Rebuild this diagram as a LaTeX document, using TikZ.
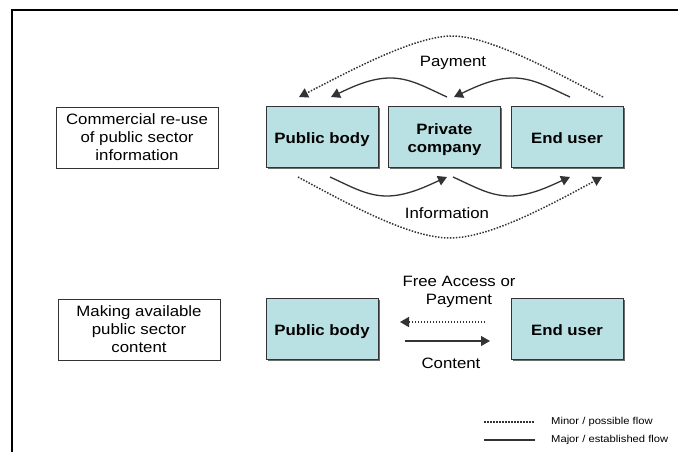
\documentclass[tikz,border=0pt]{standalone}
\usepackage{fontspec}
\setmainfont[FakeStretch=1.12]{Liberation Sans}
\usetikzlibrary{arrows.meta,shadows}
\definecolor{boxfill}{HTML}{B9E0E2}
\definecolor{ink}{HTML}{333333}
\newcommand\leadrule{\rule[-3.2pt]{0pt}{20.2pt}}
\tikzset{
  x=1pt,y=-1pt,
  actor/.style={draw=ink,line width=.9pt,fill=boxfill,minimum width=112pt,minimum height=61pt,inner sep=0pt,align=center,font=\fontsize{15}{18}\selectfont\bfseries,
    general shadow={shadow xshift=1.6pt,shadow yshift=-1.6pt,fill=gray!85!black}},
  caption/.style={draw=ink,line width=.8pt,fill=white,minimum width=162pt,minimum height=61pt,inner sep=0pt,align=center,font=\fontsize{15}{18}\selectfont},
  flowtext/.style={inner sep=0pt,align=center,font=\fontsize{15}{18}\selectfont},
  legendtext/.style={inner sep=0pt,anchor=west,font=\fontsize{10}{12}\selectfont},
  major/.style={draw=ink,line width=1.3pt,-{Triangle[length=9pt,width=10pt]}},
  minor/.style={draw=ink,line width=1.5pt,dash pattern=on 1.5pt off 1.5pt,-{Triangle[length=9pt,width=10pt]}},
}
\begin{document}
\begin{tikzpicture}
\useasboundingbox (0,0) rectangle (678,452);
\draw[black,line width=2.2pt] (12,452) -- (12,10) -- (678,10);
\node[caption] (capA) at (137,137.5) {Commercial re-use\\of public sector\\information};
\node[caption] (capB) at (139,329.5) {Making available\\public sector\\content};
\node[actor] (pub) at (322,137) {\leadrule Public body};
\node[actor] (prv) at (444.5,137) {\leadrule Private\\company};
\node[actor] (end) at (567,137) {\leadrule End user};
\node[actor] (pubB) at (322,329) {\leadrule Public body};
\node[actor] (endB) at (567,329) {\leadrule End user};
\node[flowtext] (lblPay) at (453,63) {Payment};
\node[flowtext] (lblInf) at (447,213) {Information};
\node[flowtext] (lblFree) at (459,292) {Free Access or\\Payment};
\node[flowtext] (lblCon) at (451,363) {Content};
\node[legendtext] (legMinor) at (551,422) {Minor / possible flow};
\node[legendtext] (legMajor) at (551,440) {Major / established flow};
% named ends
\coordinate (a1) at (447,97); \coordinate (a2) at (390,78); \coordinate (a3) at (331,97);
\coordinate (b1) at (570,97); \coordinate (b2) at (513,78); \coordinate (b3) at (454,97);
\coordinate (c1) at (603,97); \coordinate (c2) at (452,36); \coordinate (c3) at (299,97);
\coordinate (d1) at (330,177); \coordinate (d2) at (387,196); \coordinate (d3) at (447,177);
\coordinate (e1) at (453,177); \coordinate (e2) at (510,196); \coordinate (e3) at (570,177);
\coordinate (f1) at (298,177); \coordinate (f2) at (450,238); \coordinate (f3) at (602,177);
\coordinate (g1) at (485,322); \coordinate (g2) at (400,322);
\coordinate (h1) at (405,341); \coordinate (h2) at (490,341);
\coordinate (i1) at (484,422); \coordinate (i2) at (535,422);
\coordinate (j1) at (484,440); \coordinate (j2) at (535,440);
\path[major] (a1) .. controls (425,87) and (410,78) .. (a2) .. controls (370,78) and (350,88) .. (a3);
\path[major] (b1) .. controls (548,87) and (533,78) .. (b2) .. controls (493,78) and (473,88) .. (b3);
\path[minor] (c1) .. controls (555,72) and (490,36) .. (c2) .. controls (414,36) and (348,72) .. (c3);
\path[major] (d1) .. controls (352,187) and (367,196) .. (d2) .. controls (407,196) and (427,186) .. (d3);
\path[major] (e1) .. controls (475,187) and (490,196) .. (e2) .. controls (530,196) and (550,186) .. (e3);
\path[minor] (f1) .. controls (350,205) and (410,238) .. (f2) .. controls (490,238) and (550,205) .. (f3);
\path[minor] (g1) -- (g2);
\path[major,line width=1.1pt] (h1) -- (h2);
\draw[ink,line width=1.5pt,dash pattern=on 1.5pt off 1.5pt] (i1) -- (i2);
\draw[ink,line width=1.4pt] (j1) -- (j2);
\end{tikzpicture}
\end{document}
